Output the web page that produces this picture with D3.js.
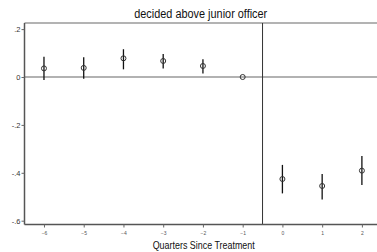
<!DOCTYPE html>
<html>
<head>
<meta charset="utf-8">
<script src="https://cdn.jsdelivr.net/npm/d3@7"></script>
<style>
  body { margin: 0; background: #fff; }
  text { font-family: "Liberation Sans", Arial, sans-serif; }
</style>
</head>
<body>
<div id="main"></div>
<script>
const quarters = [-6, -5, -4, -3, -2, -1, 0, 1, 2];
const estimates = [0.036, 0.038, 0.078, 0.067, 0.046, 0, -0.426, -0.455, -0.391];
const ciLow = [-0.013, -0.007, 0.032, 0.035, 0.015, 0, -0.486, -0.511, -0.451];
const ciHigh = [0.085, 0.082, 0.116, 0.096, 0.074, 0, -0.367, -0.405, -0.330];
const yTicks = [0.2, 0, -0.2, -0.4, -0.6];
const yTickLabels = [".2", "0", "-.2", "-.4", "-.6"];

const W = 377, H = 252;
const plot = { left: 24.5, right: 377, top: 23, bottom: 224.5 };

const svg = d3.select("#main").append("svg")
  .attr("width", W).attr("height", H);

const x = d3.scaleLinear().domain([-6.49, 2.38]).range([plot.left, plot.right]);
const y = d3.scaleLinear().domain([-0.6, 0.2]).range([220.7, 29.1]);

// top border line
svg.append("line")
  .attr("x1", plot.left).attr("x2", plot.right)
  .attr("y1", plot.top).attr("y2", plot.top)
  .attr("stroke", "#9a9a9a").attr("stroke-width", 1.5);

// zero reference line
svg.append("line")
  .attr("x1", plot.left).attr("x2", plot.right)
  .attr("y1", y(0)).attr("y2", y(0))
  .attr("stroke", "#999").attr("stroke-width", 1.5);

// treatment line
svg.append("line")
  .attr("x1", x(-0.5)).attr("x2", x(-0.5))
  .attr("y1", plot.top).attr("y2", plot.bottom)
  .attr("stroke", "#333").attr("stroke-width", 1);

// y axis
const yAxis = svg.append("g")
  .attr("transform", `translate(${plot.left},0)`)
  .call(d3.axisLeft(y).tickValues(yTicks)
    .tickFormat((d, i) => yTickLabels[i]).tickSize(3).tickSizeOuter(0));
yAxis.select(".domain").attr("d", `M0,${plot.top}V${plot.bottom}`)
  .attr("stroke", "#555").attr("stroke-width", 1.5);
yAxis.selectAll(".tick line").attr("stroke", "#666");
yAxis.selectAll(".tick text").attr("font-size", 7.5).attr("fill", "#333").attr("x", -4);

// x axis
const xAxis = svg.append("g")
  .attr("transform", `translate(0,${plot.bottom})`)
  .call(d3.axisBottom(x).tickValues(quarters).tickFormat(d3.format("d"))
    .tickSize(3).tickSizeOuter(0));
xAxis.select(".domain").attr("d", `M${plot.left},0H${plot.right}`)
  .attr("stroke", "#555").attr("stroke-width", 1.5);
xAxis.selectAll(".tick line").attr("stroke", "#666");
xAxis.selectAll(".tick text").attr("font-size", 5).attr("fill", "#555").attr("y", 7);

// confidence intervals
svg.selectAll("line.ci").data(quarters).enter().append("line")
  .attr("class", "ci")
  .attr("x1", d => x(d)).attr("x2", d => x(d))
  .attr("y1", (d, i) => y(ciLow[i])).attr("y2", (d, i) => y(ciHigh[i]))
  .attr("stroke", "#111").attr("stroke-width", 1.3);

// point estimates
svg.selectAll("circle.pt").data(quarters).enter().append("circle")
  .attr("class", "pt")
  .attr("cx", d => x(d)).attr("cy", (d, i) => y(estimates[i]))
  .attr("r", 2.5)
  .attr("fill", "none").attr("stroke", "#333").attr("stroke-width", 1);

// title (condensed, like the original)
svg.append("text")
  .attr("x", (plot.left + plot.right) / 2).attr("y", 18)
  .attr("text-anchor", "middle").attr("font-size", 12.5).attr("fill", "#111")
  .attr("textLength", 133).attr("lengthAdjust", "spacingAndGlyphs")
  .text("decided above junior officer");

// x axis title
svg.append("text")
  .attr("x", 203.7).attr("y", 248.5)
  .attr("text-anchor", "middle").attr("font-size", 11).attr("fill", "#111")
  .attr("textLength", 102).attr("lengthAdjust", "spacingAndGlyphs")
  .text("Quarters Since Treatment");
</script>
</body>
</html>
